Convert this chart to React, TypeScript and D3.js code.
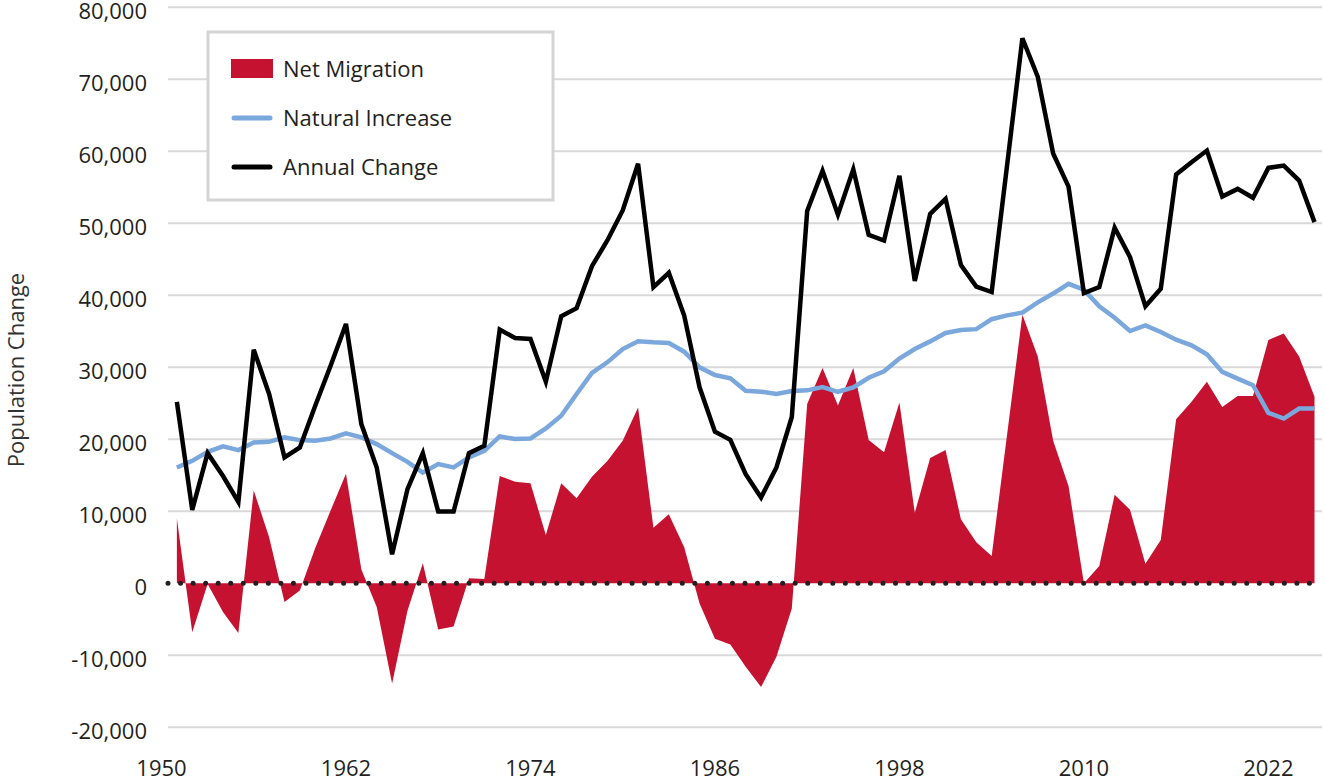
import React from "react";
import * as d3 from "d3";

const years = d3.range(1951, 2026);

const netMigration = [
  9000, -6800, -100, -4000, -6900, 12900, 6400, -2600, -1000, 4900,
  10100, 15200, 1900, -3300, -13900, -3800, 2800, -6400, -6000, 700,
  600, 14900, 14100, 13900, 6700, 13900, 11800, 14800, 17000, 19800,
  24400, 7700, 9600, 5000, -2800, -7700, -8500, -11600, -14400, -10200,
  -3500, 24900, 29900, 24700, 29900, 19900, 18200, 25100, 9800, 17400,
  18500, 8900, 5700, 3800, 20600, 37300, 31500, 19800, 13500, 0,
  2400, 12300, 10200, 2700, 6000, 22800, 25200, 28000, 24500, 26000,
  26000, 33800, 34700, 31500, 25900,
];

const naturalIncrease = [
  16090, 17010, 18260, 19010, 18500, 19570, 19650, 20260, 19890, 19790,
  20120, 20820, 20260, 19330, 18080, 16870, 15390, 16550, 16090, 17480,
  18400, 20400, 20030, 20120, 21500, 23270, 26290, 29210, 30690, 32540,
  33610, 33470, 33380, 32170, 30000, 28930, 28470, 26750, 26610, 26290,
  26700, 26800, 27250, 26600, 27220, 28550, 29450, 31210, 32540, 33600,
  34770, 35190, 35300, 36680, 37210, 37590, 39020, 40240, 41600, 40780,
  38460, 36890, 35040, 35830, 34910, 33840, 33060, 31810, 29360, 28430,
  27510, 23670, 22880, 24270, 24270,
];

const annualChange = [
  25200, 10200, 18080, 14900, 11300, 32450, 26300, 17480, 18870, 24660,
  30220, 36020, 22110, 16090, 4030, 13070, 18080, 9970, 9970, 18080,
  19100, 35230, 34070, 33930, 28000, 37090, 38200, 44050, 47610, 51780,
  58280, 41130, 43120, 37180, 27220, 21050, 19930, 15160, 11920, 16090,
  23100, 51700, 57300, 51200, 57500, 48400, 47600, 56600, 42000, 51300,
  53400, 44200, 41200, 40450, 58000, 75700, 70350, 59700, 55100, 40300,
  41150, 49380, 45310, 38470, 40910, 56770, 58480, 60100, 53720, 54780,
  53540, 57700, 58020, 55940, 50160,
];

const xTicks = [1950, 1962, 1974, 1986, 1998, 2010, 2022];
const yTicks = [-20000, -10000, 0, 10000, 20000, 30000, 40000, 50000, 60000, 70000, 80000];

const legendItems = [
  { label: "Net Migration", kind: "area" },
  { label: "Natural Increase", kind: "blue" },
  { label: "Annual Change", kind: "black" },
];

const RED = "#c41230";
const BLUE = "#7aa7dc";
const FONT = "'Open Sans', 'Noto Sans', sans-serif";

export default function App() {
  const width = 1326;
  const height = 781;
  const gridLeft = 168;
  const gridRight = 1322;

  const x = d3.scaleLinear().domain([1950, 2025]).range([161.5, 1314.5]);
  const y = d3.scaleLinear().domain([-20000, 80000]).range([727.3, 7.3]);

  const area = d3
    .area<number>()
    .x((_, i) => x(years[i]))
    .y0(y(0))
    .y1((d) => y(d));

  const line = d3
    .line<number>()
    .x((_, i) => x(years[i]))
    .y((d) => y(d));

  // hyphen for negatives, like the original
  const fmt = (v: number) => d3.format(",")(v).replace("\u2212", "-");
  const dotCount = 92;
  const dotGap = (gridRight - gridLeft) / dotCount;

  return (
    <svg
      width={width}
      height={height}
      style={{ position: "absolute", left: 0, top: 0, fontFamily: FONT }}
    >
      <rect width={width} height={height} fill="#fff" />
      {/* grid */}
      {yTicks
        .filter((t) => t !== 0)
        .map((t) => (
          <line
            key={t}
            x1={gridLeft}
            x2={gridRight}
            y1={y(t)}
            y2={y(t)}
            stroke="#d9d9d9"
            strokeWidth={2}
          />
        ))}
      {yTicks.map((t) => (
        <text
          key={"l" + t}
          x={147}
          y={y(t) + 12}
          textAnchor="end"
          fontSize={22}
          fill="#231f20"
        >
          {fmt(t)}
        </text>
      ))}
      {xTicks.map((t) => (
        <text key={"x" + t} x={x(t)} y={776} textAnchor="middle" fontSize={22} fill="#231f20">
          {t}
        </text>
      ))}
      <text
        transform="translate(24,370) rotate(-90)"
        textAnchor="middle"
        fontSize={22}
        fill="#333"
      >
        Population Change
      </text>

      <path d={area(netMigration) ?? ""} fill={RED} />
      <line
        x1={gridLeft}
        x2={gridRight}
        y1={y(0)}
        y2={y(0)}
        stroke="#231f20"
        strokeWidth={5}
        strokeLinecap="round"
        strokeDasharray={`0 ${dotGap}`}
      />
      <path d={line(naturalIncrease) ?? ""} fill="none" stroke={BLUE} strokeWidth={4.5} />
      <path
        d={line(annualChange) ?? ""}
        fill="none"
        stroke="#000"
        strokeWidth={4.5}
        strokeLinejoin="miter"
      />

      {/* legend */}
      <rect x={208} y={32} width={345} height={168} fill="#fff" stroke="#d4d4d4" strokeWidth={3} />
      {legendItems.map((item, i) => {
        const cy = 69 + i * 49;
        return (
          <g key={item.label}>
            {item.kind === "area" ? (
              <rect x={231} y={cy - 10} width={42} height={19} fill={RED} />
            ) : (
              <line
                x1={234}
                x2={270}
                y1={cy}
                y2={cy}
                stroke={item.kind === "blue" ? BLUE : "#000"}
                strokeWidth={5}
                strokeLinecap="round"
              />
            )}
            <text x={283} y={cy + 8} fontSize={22} fill="#231f20">
              {item.label}
            </text>
          </g>
        );
      })}
    </svg>
  );
}
